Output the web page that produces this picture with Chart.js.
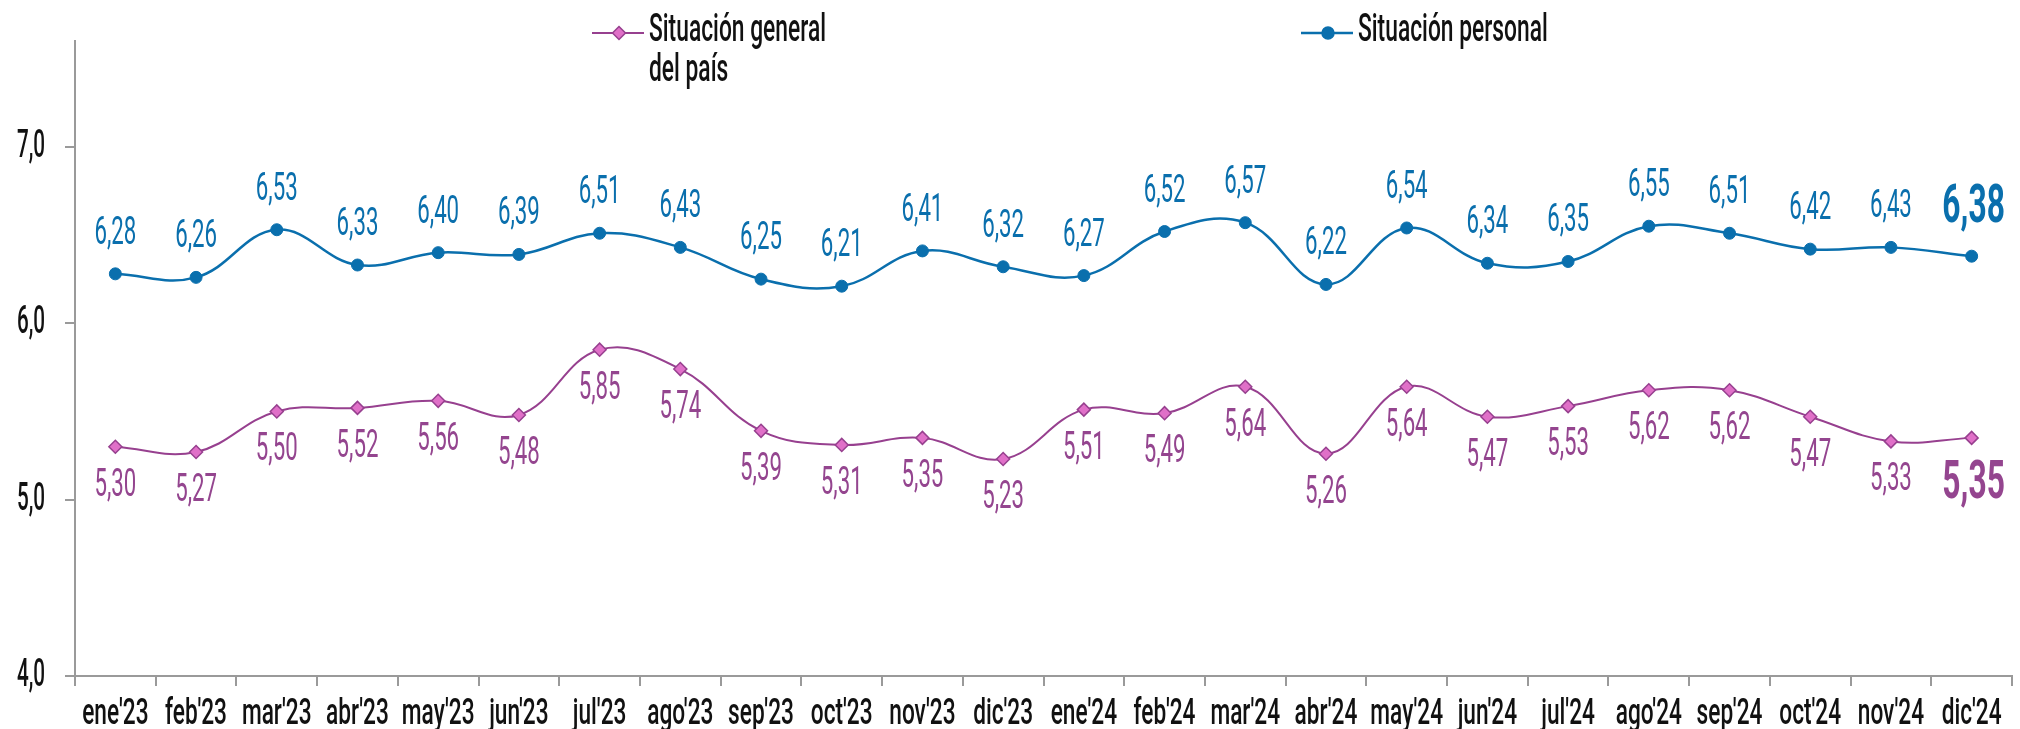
<!DOCTYPE html>
<html>
<head>
<meta charset="utf-8">
<script src="https://cdn.jsdelivr.net/npm/chart.js@4.4.1/dist/chart.umd.min.js"></script>
<style>
  html, body { margin: 0; padding: 0; background: #fff; }
  #wrap { width: 2020px; height: 729px; }
</style>
</head>
<body>
<div id="wrap"><canvas id="chart" width="2020" height="729"></canvas></div>
<script>
// months shown on the x axis
const categories = ["ene'23", "feb'23", "mar'23", "abr'23", "may'23", "jun'23", "jul'23", "ago'23",
  "sep'23", "oct'23", "nov'23", "dic'23", "ene'24", "feb'24", "mar'24", "abr'24", "may'24",
  "jun'24", "jul'24", "ago'24", "sep'24", "oct'24", "nov'24", "dic'24"];

const generalValues = [5.30, 5.27, 5.50, 5.52, 5.56, 5.48, 5.85, 5.74, 5.39, 5.31, 5.35, 5.23,
  5.51, 5.49, 5.64, 5.26, 5.64, 5.47, 5.53, 5.62, 5.62, 5.47, 5.33, 5.35];

const personalValues = [6.28, 6.26, 6.53, 6.33, 6.40, 6.39, 6.51, 6.43, 6.25, 6.21, 6.41, 6.32,
  6.27, 6.52, 6.57, 6.22, 6.54, 6.34, 6.35, 6.55, 6.51, 6.42, 6.43, 6.38];

const yTicks = [4, 5, 6, 7];

const seriesNames = [["Situación general", "del país"], ["Situación personal"]];

const BLUE = '#0a6fad';
const PURPLE = '#97408f';
const PINK = '#e070c8';
const PURPLE_TEXT = '#94458f';
const AXIS = '#9a9a9a';
const FONT = 'Roboto, "Liberation Sans", sans-serif';

function fmt(v, d) {
  return v.toFixed(d).replace('.', ',');
}

// the source uses a very narrow typeface, so text is squeezed horizontally
function narrowText(ctx, str, x, y, opts) {
  ctx.save();
  ctx.font = (opts.weight || '500') + ' ' + opts.size + 'px ' + FONT;
  ctx.fillStyle = opts.color || '#111';
  ctx.textAlign = opts.align || 'center';
  ctx.textBaseline = 'alphabetic';
  ctx.translate(x, y);
  ctx.scale(opts.sx || 0.68, 1);
  ctx.fillText(str, 0, 0);
  ctx.restore();
}

const textPlugin = {
  id: 'narrowText',
  afterDraw(chart) {
    const ctx = chart.ctx;
    const xs = chart.scales.x;
    const ys = chart.scales.y;

    yTicks.forEach(v => {
      narrowText(ctx, fmt(v, 1), 45, ys.getPixelForValue(v) + 10, { size: 39, align: 'right', sx: 0.53 });
    });

    categories.forEach((c, i) => {
      narrowText(ctx, c, xs.getPixelForValue(i), 724, { size: 36, sx: 0.63 });
    });

    const last = categories.length - 1;
    chart.getDatasetMeta(0).data.forEach((pt, i) => {
      if (i === last) {
        narrowText(ctx, fmt(generalValues[i], 2), pt.x + 2, pt.y + 60, { size: 53, weight: 'bold', color: PURPLE_TEXT, sx: 0.6 });
      } else {
        narrowText(ctx, fmt(generalValues[i], 2), pt.x, pt.y + 49, { size: 39, weight: '400', color: PURPLE_TEXT, sx: 0.57 });
      }
    });
    chart.getDatasetMeta(1).data.forEach((pt, i) => {
      if (i === last) {
        narrowText(ctx, fmt(personalValues[i], 2), pt.x + 2, pt.y - 34, { size: 53, weight: 'bold', color: BLUE, sx: 0.6 });
      } else {
        narrowText(ctx, fmt(personalValues[i], 2), pt.x, pt.y - 30, { size: 39, weight: '400', color: BLUE, sx: 0.57 });
      }
    });

    // legend
    const legend = [
      { x: 592, color: PURPLE, fill: PINK, style: 'rectRot', r: 6.5, w: 2 },
      { x: 1301, color: BLUE, fill: BLUE, style: 'circle', r: 6, w: 2.5 }
    ];
    legend.forEach((l, i) => {
      ctx.save();
      ctx.strokeStyle = l.color;
      ctx.lineWidth = l.w;
      ctx.beginPath();
      ctx.moveTo(l.x, 33);
      ctx.lineTo(l.x + 52, 33);
      ctx.stroke();
      ctx.fillStyle = l.fill;
      ctx.lineWidth = 1.5;
      Chart.helpers.drawPoint(ctx, { pointStyle: l.style, radius: l.r, rotation: 0, borderWidth: 1.5 }, l.x + 27, 33);
      ctx.restore();
      seriesNames[i].forEach((line, k) => {
        narrowText(ctx, line, l.x + 57, 41 + k * 40, { size: 38, align: 'left', sx: 0.6 });
      });
    });
  }
};

new Chart(document.getElementById('chart'), {
  type: 'line',
  data: {
    labels: categories,
    datasets: [
      {
        label: seriesNames[0].join(' '),
        data: generalValues,
        borderColor: PURPLE,
        borderWidth: 2,
        tension: 0.4,
        pointStyle: 'rectRot',
        pointRadius: 6.5,
        pointBackgroundColor: PINK,
        pointBorderColor: PURPLE,
        pointBorderWidth: 1.5
      },
      {
        label: seriesNames[1].join(' '),
        data: personalValues,
        borderColor: BLUE,
        borderWidth: 2.5,
        tension: 0.4,
        pointStyle: 'circle',
        pointRadius: 6,
        pointBackgroundColor: BLUE,
        pointBorderColor: BLUE,
        pointBorderWidth: 1
      }
    ]
  },
  options: {
    responsive: false,
    animation: false,
    layout: { padding: { top: 41, right: 0, bottom: 0, left: 0 } },
    plugins: {
      legend: { display: false },
      tooltip: { enabled: false }
    },
    scales: {
      x: {
        offset: true,
        grid: { offset: true, drawOnChartArea: false, drawTicks: true, tickLength: 10, color: AXIS, lineWidth: 2 },
        border: { display: true, color: AXIS, width: 2 },
        ticks: { display: false },
        afterFit(s) { s.height = 53; }
      },
      y: {
        min: 4,
        max: 7.6,
        afterBuildTicks(s) { s.ticks = yTicks.map(v => ({ value: v })); },
        grid: { drawOnChartArea: false, drawTicks: true, tickLength: 10, color: AXIS, lineWidth: 2 },
        border: { display: true, color: AXIS, width: 2 },
        ticks: { display: false },
        afterFit(s) { s.width = 75; }
      }
    }
  },
  plugins: [textPlugin]
});
</script>
</body>
</html>
